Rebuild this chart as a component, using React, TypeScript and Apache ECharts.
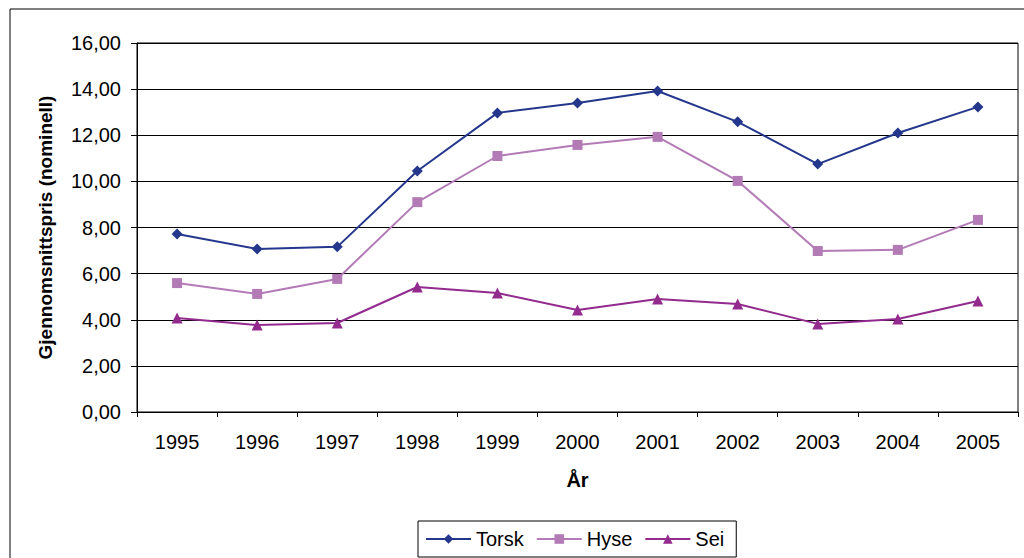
import React, { useEffect, useRef } from "react";
import * as echarts from "echarts";

const years = ["1995", "1996", "1997", "1998", "1999", "2000", "2001", "2002", "2003", "2004", "2005"];
const torsk = [7.72, 7.07, 7.16, 10.45, 12.97, 13.4, 13.92, 12.58, 10.75, 12.1, 13.23];
const hyse = [5.59, 5.12, 5.77, 9.1, 11.1, 11.58, 11.93, 10.02, 6.98, 7.03, 8.33];
const sei = [4.08, 3.77, 3.86, 5.42, 5.16, 4.42, 4.9, 4.68, 3.82, 4.03, 4.81];

const FONT = "'Liberation Sans', Arial, sans-serif";

export default function App() {
  const ref = useRef<HTMLDivElement>(null);
  useEffect(() => {
    if (!ref.current) return;
    const chart = echarts.init(ref.current, null, { renderer: "svg" });
    const mk = (name: string, data: number[], color: string, symbol: string, size: number) => ({
      name,
      type: "line",
      data,
      symbol,
      symbolSize: size,
      lineStyle: { color, width: 2 },
      itemStyle: { color },
    });
    chart.setOption({
      animation: false,
      backgroundColor: "#fff",
      textStyle: { fontFamily: FONT },
      graphic: [
        {
          type: "rect",
          shape: { x: 10, y: 9, width: 1100, height: 700 },
          style: { fill: "none", stroke: "#000", lineWidth: 1 },
          silent: true,
        },
      ],
      grid: { left: 137, right: 6, top: 43, bottom: 146, show: true, borderColor: "#000", borderWidth: 1 },
      xAxis: {
        type: "category",
        data: years,
        boundaryGap: true,
        name: "År",
        nameLocation: "middle",
        nameGap: 58,
        nameTextStyle: { fontSize: 20, fontWeight: "bold", color: "#000", fontFamily: FONT },
        axisLine: { lineStyle: { color: "#000" } },
        axisTick: { show: true, length: 5, lineStyle: { color: "#000" } },
        axisLabel: { fontSize: 20, color: "#000", margin: 20, fontFamily: FONT },
      },
      yAxis: {
        type: "value",
        min: 0,
        max: 16,
        interval: 2,
        name: "Gjennomsnittspris (nominell)",
        nameLocation: "middle",
        nameGap: 82,
        nameTextStyle: { fontSize: 19, fontWeight: "bold", color: "#000", fontFamily: FONT },
        axisLine: { show: true, lineStyle: { color: "#000" } },
        axisTick: { show: true, length: 6, lineStyle: { color: "#000" } },
        axisLabel: {
          fontSize: 20,
          color: "#000",
          margin: 16,
          fontFamily: FONT,
          formatter: (v: number) => v.toFixed(2).replace(".", ","),
        },
        splitLine: { show: true, lineStyle: { color: "#000", width: 1 } },
      },
      legend: {
        bottom: 1,
        left: 418,
        borderColor: "#000",
        borderWidth: 1,
        padding: [8, 12, 8, 7],
        itemGap: 12,
        itemWidth: 45,
        itemHeight: 12,
        textStyle: { fontSize: 20, color: "#000", fontFamily: FONT },
        data: ["Torsk", "Hyse", "Sei"],
      },
      series: [
        mk("Torsk", torsk, "#24378C", "diamond", 11),
        mk("Hyse", hyse, "#B27BB6", "rect", 10),
        mk("Sei", sei, "#932A8E", "triangle", 11),
      ],
    });
    return () => chart.dispose();
  }, []);
  return <div ref={ref} style={{ position: "fixed", left: 0, top: 0, width: 1024, height: 558 }} />;
}
